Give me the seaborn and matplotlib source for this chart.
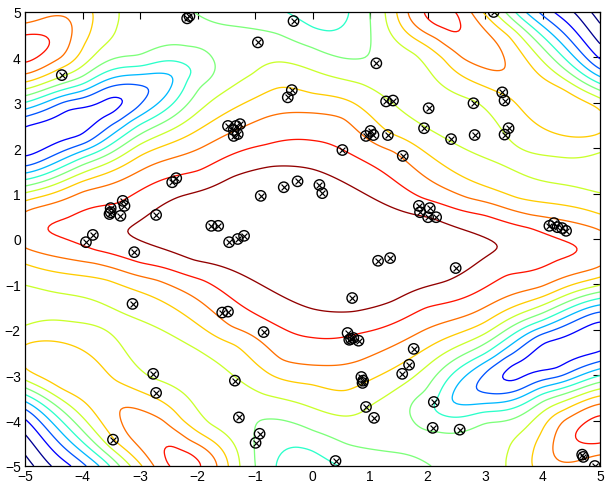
import numpy as np
import matplotlib
matplotlib.use("Agg")
import matplotlib.pyplot as plt
from matplotlib.colors import Normalize
import seaborn as sns

# sample locations (circled x markers)
sample_x = [-2.18, -2.14, -0.33, -0.95, -4.36, -0.43, -0.36,
            -1.47, -1.33, -1.26, -1.37, -1.30, -1.37,
            -2.44, -2.37, -0.50, -0.26, -0.90,
            -3.30, -3.27, -3.51, -3.51, -3.53, -3.34, -2.72,
            -1.76, -1.64, -1.45, -1.30, -1.19, -3.94, -3.82, -3.10,
            3.15, 1.11, 1.28, 1.40, 2.02, 2.80, 3.30, 3.34,
            1.94, 2.41, 2.82, 3.34, 3.41, 0.93, 1.01, 1.06, 1.31,
            0.52, 1.57, 0.12, 0.17,
            1.85, 1.87, 2.04, 2.01, 2.15,
            4.12, 4.20, 4.26, 4.34, 4.41,
            -3.13, -1.57, -1.47, -0.85, -2.77, -2.72, -1.35, -1.28, -0.92, -0.99, -3.47,
            1.14, 1.35, 2.49, 0.69,
            0.61, 0.64, 0.67, 0.71, 0.80,
            1.76, 1.68, 1.56, 0.85, 0.88, 0.87, 0.93, 1.07,
            2.11, 2.09, 2.56, 0.40, 4.69, 4.71, 4.91]
sample_y = [4.86, 4.91, 4.80, 4.33, 3.61, 3.12, 3.28,
            2.49, 2.49, 2.53, 2.27, 2.31, 2.40,
            1.25, 1.34, 1.14, 1.27, 0.95,
            0.84, 0.73, 0.68, 0.59, 0.55, 0.51, 0.53,
            0.29, 0.29, -0.07, 0.00, 0.07, -0.07, 0.09, -0.29,
            5.00, 3.87, 3.03, 3.05, 2.88, 2.99, 3.23, 3.05,
            2.44, 2.20, 2.29, 2.30, 2.44, 2.27, 2.38, 2.29, 2.29,
            1.96, 1.83, 1.19, 1.01,
            0.73, 0.59, 0.68, 0.48, 0.48,
            0.29, 0.35, 0.26, 0.24, 0.18,
            -1.43, -1.62, -1.60, -2.05, -2.97, -3.39, -3.12, -3.93, -4.29, -4.49, -4.42,
            -0.48, -0.42, -0.64, -1.30,
            -2.07, -2.22, -2.20, -2.18, -2.24,
            -2.42, -2.77, -2.97, -3.04, -3.12, -3.17, -3.70, -3.94,
            -3.59, -4.16, -4.20, -4.89, -4.75, -4.80, -5.00]

# contour lines: (x, y) points lying on each level
# (the surface is point-symmetric, so the mirrored half is added below)
lvl10 = [(-3.30, 0.18), (-2.32, 0.95), (-1.40, 1.39), (-0.71, 1.62), (0.0, 1.55),
         (0.30, 1.40), (1.05, 0.90), (2.06, 0.51), (2.92, 0.07), (3.30, -0.20)]
lvl9 = [(-4.62, 0.22), (-4.22, 0.44), (-3.36, 0.70), (-1.97, 1.47), (-0.81, 2.05),
        (0.0, 2.15), (0.52, 1.96), (1.14, 1.54), (1.89, 0.88), (3.0, 0.55),
        (3.79, 0.29), (4.64, -0.18),
        (-5.0, 3.85), (-4.7, 4.12), (-4.52, 4.36), (-4.75, 4.5), (-5.0, 4.55),
        (1.85, 5.0), (2.12, 4.69), (2.41, 4.47), (2.58, 4.6), (2.55, 5.0)]
lvl8 = [(-5.0, 0.64), (-4.0, 1.07), (-3.0, 1.5), (-1.97, 1.98), (-0.8, 2.7),
        (0.0, 2.79), (0.57, 2.71), (1.44, 1.98), (2.70, 0.88), (3.8, 0.5), (5.0, 0.22),
        (-5.0, 3.62), (-4.34, 3.96), (-4.17, 4.69), (-4.27, 4.93), (-4.6, 4.92), (-5.0, 4.75),
        (1.65, 5.0), (2.18, 4.47), (2.58, 3.96), (3.1, 3.7), (3.39, 3.63),
        (3.34, 3.9), (3.04, 4.55), (2.75, 5.0)]
lvl7 = [(-5.0, 0.84), (-4.0, 1.28), (-3.0, 1.85), (-2.0, 2.4), (-1.0, 3.1),
        (-0.59, 3.39), (0.0, 3.17), (0.85, 2.86), (1.31, 2.29), (2.30, 1.61),
        (3.56, 0.88), (5.0, 0.51),
        (-5.0, 3.45), (-4.4, 3.8), (-4.0, 4.3), (-3.85, 4.7), (-3.79, 5.0),
        (1.45, 5.0), (2.30, 4.0), (3.44, 3.15), (5.0, 2.31),
        (2.94, 5.0), (3.44, 4.5), (5.0, 2.9), (-5.0, 4.95), (-4.95, 5.0)]
lvl6 = [(-5.0, 1.03), (-4.0, 1.45), (-3.0, 2.1), (-2.0, 2.8), (-1.0, 3.6),
        (-0.59, 3.92), (0.0, 3.72), (0.85, 3.45), (2.0, 2.42), (3.44, 1.54), (5.0, 1.03),
        (-5.0, 3.3), (-4.3, 3.6), (-3.7, 4.2), (-3.45, 4.7), (-3.41, 5.0),
        (1.31, 5.0), (1.83, 4.1), (2.87, 3.08), (5.0, 1.98),
        (3.16, 5.0), (5.0, 3.12)]
lvl5 = [(-5.0, 1.17), (-4.0, 1.65), (-3.0, 2.3), (-2.1, 3.45), (-1.75, 3.95),
        (-2.2, 4.15), (-3.0, 3.95), (-4.0, 3.55), (-5.0, 3.15),
        (-2.09, 5.0), (-1.5, 4.7), (-0.59, 4.55), (0.0, 4.25), (0.57, 3.96),
        (0.92, 3.92), (0.97, 4.2), (0.98, 5.0),
        (3.36, 5.0), (5.0, 3.28)]
lvl4 = [(-5.0, 1.3), (-4.0, 1.8), (-3.0, 2.55), (-2.3, 3.2), (-1.97, 3.67),
        (-2.2, 3.85), (-3.0, 3.8), (-4.0, 3.4), (-5.0, 3.0),
        (-0.47, 5.0), (0.0, 4.62), (0.28, 4.55), (0.68, 5.0),
        (3.52, 5.0), (5.0, 3.41)]
lvl3 = [(-5.0, 1.45), (-4.0, 1.95), (-3.2, 2.6), (-2.6, 3.1), (-2.32, 3.52),
        (-2.4, 3.65), (-3.0, 3.62), (-4.0, 3.25), (-5.0, 2.85),
        (3.67, 5.0), (5.0, 3.57)]
lvl2 = [(-5.0, 1.6), (-4.0, 2.1), (-3.5, 2.55), (-3.0, 3.0), (-2.72, 3.37),
        (-3.2, 3.42), (-4.0, 3.1), (-5.0, 2.7),
        (3.93, 5.0), (5.0, 3.72)]
lvl1 = [(-5.0, 1.76), (-4.0, 2.2), (-3.41, 2.71), (-3.18, 3.01), (-3.53, 3.19),
        (-4.27, 2.93), (-5.0, 2.51),
        (4.17, 5.0), (5.0, 3.93)]
lvl0 = [(4.58, 5.0), (5.0, 4.3)]
lvlm1 = [(4.85, 5.0), (5.0, 4.75)]

# peaks, pits and in-between values: (x, y, level)
extra_pts = [(0.0, 0.0, 10.8), (-5.0, 4.2, 9.5), (2.2, 4.9, 9.35), (0.15, 5.0, 3.6),
             (-5.0, 2.13, 0.5), (-4.3, 2.55, 0.8), (-4.5, 2.4, 0.6), (5.0, 5.0, -1.5),
             (-5.0, 0.22, 8.6), (-5.0, -1.26, 5.6), (-5.0, -2.45, 7.3), (-5.0, 5.0, 6.8),
             (-1.4, 4.4, 5.4), (-2.75, 5.0, 5.5), (-1.3, 5.0, 4.5), (1.8, 3.3, 5.6),
             (3.0, 2.4, 5.7), (4.2, 1.6, 5.7), (4.3, 3.2, 7.6)]

levels = np.arange(-1, 11)


def tps_kernel(r):
    with np.errstate(divide="ignore", invalid="ignore"):
        k = r ** 2 * np.log(r)
    return np.nan_to_num(k)


# collect anchors and add the point-mirrored copies
ax_, ay_, az_ = [], [], []
for lev, pts in zip(levels, [lvlm1, lvl0, lvl1, lvl2, lvl3, lvl4, lvl5,
                             lvl6, lvl7, lvl8, lvl9, lvl10]):
    for px, py in pts:
        ax_.append(px); ay_.append(py); az_.append(lev)
for px, py, pz in extra_pts:
    ax_.append(px); ay_.append(py); az_.append(pz)
ax_ = np.array(ax_ + [-v for v in ax_])
ay_ = np.array(ay_ + [-v for v in ay_])
az_ = np.array(az_ + az_, dtype=float)

# smoothing thin plate spline through the anchors
n = len(ax_)
D = np.hypot(ax_[:, None] - ax_[None, :], ay_[:, None] - ay_[None, :])
A = np.zeros((n + 3, n + 3))
A[:n, :n] = tps_kernel(D) + 0.15 * np.eye(n)
P = np.column_stack([np.ones(n), ax_, ay_])
A[:n, n:] = P
A[n:, :n] = P.T
sol = np.linalg.solve(A, np.r_[az_, 0, 0, 0])
w, coef = sol[:n], sol[n:]

gx, gy = np.meshgrid(np.linspace(-5, 5, 241), np.linspace(-5, 5, 241))
Dg = np.hypot(gx.ravel()[:, None] - ax_[None, :], gy.ravel()[:, None] - ay_[None, :])
Z = (tps_kernel(Dg) @ w + coef[0] + coef[1] * gx.ravel() + coef[2] * gy.ravel()).reshape(gx.shape)

sns.set_style("white")
plt.rcParams["font.family"] = ["Liberation Sans", "DejaVu Sans"]

fig = plt.figure(figsize=(6.05, 4.85), dpi=100)
ax = fig.add_axes([25 / 605, 18 / 485, 575 / 605, 454 / 485])

ax.contour(gx, gy, Z, levels=levels, cmap="jet",
           norm=Normalize(vmin=-0.17, vmax=10.17), linewidths=0.95)

sns.scatterplot(x=sample_x, y=sample_y, ax=ax, marker="o", s=56,
                facecolors="none", edgecolor="black", linewidth=1.0, zorder=5)
sns.scatterplot(x=sample_x, y=sample_y, ax=ax, marker="x", s=18,
                color="black", linewidth=0.85, zorder=6)

ax.set_xlim(-5, 5)
ax.set_ylim(-5, 5)
ax.set_xticks(range(-5, 6))
ax.set_yticks(range(-5, 6))
ax.tick_params(direction="in", top=True, right=True, length=5, width=0.8,
               labelsize=10, colors="black")
ax.tick_params(axis="x", pad=2)
ax.tick_params(axis="y", pad=3)
for sp in ax.spines.values():
    sp.set_color("black")
    sp.set_linewidth(0.9)

fig.savefig("out.png", dpi=100)
